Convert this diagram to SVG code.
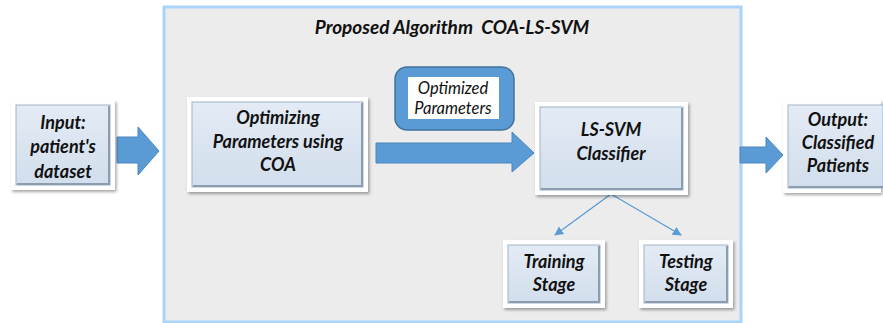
<svg xmlns="http://www.w3.org/2000/svg" width="883" height="323" viewBox="0 0 883 323">
<defs>
<linearGradient id="bg" x1="0" y1="0" x2="0" y2="1">
<stop offset="0" stop-color="#e3ebf5"/>
<stop offset="1" stop-color="#d2deec"/>
</linearGradient>
<filter id="sh" x="-10%" y="-10%" width="130%" height="130%">
<feDropShadow dx="1.5" dy="2" stdDeviation="1.5" flood-color="#000" flood-opacity="0.35"/>
</filter>
<marker id="ah" viewBox="0 0 10 10" refX="9" refY="5" markerWidth="9" markerHeight="9" orient="auto" markerUnits="userSpaceOnUse">
<path d="M0,0 L10,5 L0,10 z" fill="#5b9bd5"/>
</marker>
<style>
.t{font-family:Lato,"Open Sans","Liberation Sans",sans-serif;font-weight:bold;font-style:italic;font-size:18px;fill:#111;text-anchor:middle}
.ti{font-size:19px;white-space:pre}
.s{font-family:Lato,"Open Sans","Liberation Sans",sans-serif;font-style:italic;font-size:16.5px;fill:#111;text-anchor:middle}
.outer{fill:#fff;filter:url(#sh)}
.inner{fill:url(#bg);stroke:#9fb3c8;stroke-width:1}
.bev{fill:none;stroke:#8c9db0;stroke-width:2}
.big{fill:#5b9bd5;stroke:#4a86c0;stroke-width:1}
.ln{stroke:#5b9bd5;stroke-width:1.3;fill:none;marker-end:url(#ah)}
</style>
</defs>
<rect width="883" height="323" fill="#fff"/>
<g id="container">
<rect x="164" y="7" width="577" height="315" fill="#ececec" stroke="#a9d3f7" stroke-width="3"/>
<text class="t ti" x="452" y="34">Proposed Algorithm  COA-LS-SVM</text>
</g>
<g id="connectors">
<path class="big" d="M117,137 H138 V127 L159,151 L138,175 V163 H117 Z"/>
<path class="big" d="M376,143 H512 V132 L534,153 L512,172 V163 H376 Z"/>
<path class="big" d="M740,147 H766 V137 L783,155 L766,173 V163 H740 Z"/>
<line class="ln" x1="611" y1="194" x2="555" y2="235"/>
<line class="ln" x1="611" y1="194" x2="681" y2="235"/>
</g>
<g id="input">
<rect class="outer" x="11" y="100" width="104" height="90"/>
<rect class="inner" x="16" y="105" width="94" height="80"/>
<path class="bev" d="M17,184 H109 V106"/>
<text class="t" x="63" y="129">Input:</text>
<text class="t" x="63" y="153">patient's</text>
<text class="t" x="63" y="178">dataset</text>
</g>
<g id="optimizing">
<rect class="outer" x="187" y="97" width="181" height="95"/>
<rect class="inner" x="192" y="102" width="171" height="85"/>
<path class="bev" d="M193,186 H362 V103"/>
<text class="t" x="278" y="124">Optimizing</text>
<text class="t" x="278" y="148">Parameters using</text>
<text class="t" x="278" y="171">COA</text>
</g>
<g id="optimized-parameters">
<rect x="395" y="67" width="119" height="63" rx="12" fill="#5b9bd5" stroke="#41719c" stroke-width="1.5"/>
<rect x="408" y="77" width="91" height="42" fill="#fff"/>
<text class="s" x="453" y="94">Optimized</text>
<text class="s" x="453" y="114">Parameters</text>
</g>
<g id="lssvm">
<rect class="outer" x="535" y="102" width="153" height="93"/>
<rect class="inner" x="540" y="107" width="143" height="83"/>
<path class="bev" d="M541,189 H682 V108"/>
<text class="t" x="611" y="136">LS-SVM</text>
<text class="t" x="611" y="160">Classifier</text>
</g>
<g id="training">
<rect class="outer" x="503" y="240" width="102" height="68"/>
<rect class="inner" x="508" y="245" width="92" height="58"/>
<path class="bev" d="M509,302 H599 V246"/>
<text class="t" x="554" y="268">Training</text>
<text class="t" x="554" y="291">Stage</text>
</g>
<g id="testing">
<rect class="outer" x="639" y="240" width="94" height="68"/>
<rect class="inner" x="644" y="245" width="84" height="58"/>
<path class="bev" d="M645,302 H727 V246"/>
<text class="t" x="686" y="268">Testing</text>
<text class="t" x="686" y="291">Stage</text>
</g>
<g id="output">
<rect class="outer" x="783" y="100" width="98" height="93"/>
<rect class="inner" x="788" y="105" width="95" height="83"/>
<path class="bev" d="M789,187 H883"/>
<text class="t" x="838" y="126">Output:</text>
<text class="t" x="838" y="149">Classified</text>
<text class="t" x="838" y="172">Patients</text>
</g>
</svg>
